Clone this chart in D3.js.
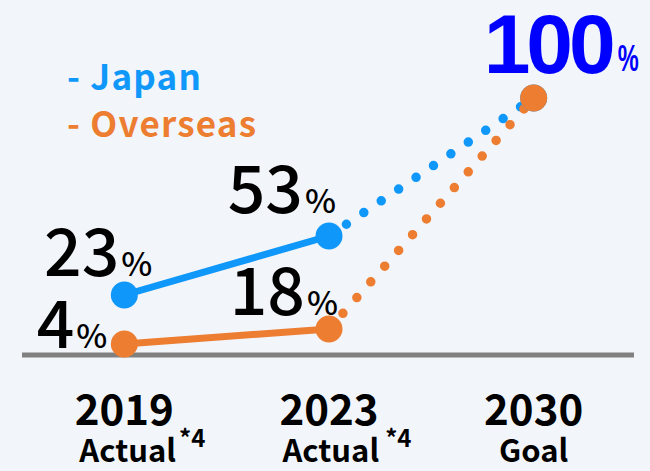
<!DOCTYPE html>
<html><head><meta charset="utf-8">
<script src="https://cdn.jsdelivr.net/npm/d3@7"></script>
<style>
html,body{margin:0;padding:0;background:#f2f6fb;}
svg{display:block;}
</style></head>
<body>
<svg id="chart" width="650" height="471"></svg>
<script>
// ---- data ----
const years = ["2019", "2023", "2030"];
const yearSubLabels = ["Actual", "Actual", "Goal"];
const yearNotes = ["*4", "*4", ""];
const japanValues = [23, 53, 100];
const overseasValues = [4, 18, 100];
const seriesNames = ["Japan", "Overseas"];
// illustrative (non-linear) value axis breakpoints used by the original graphic
const axisBreaks = [0, 4, 18, 23, 53, 100];

// ---- layout ----
const W = 650, H = 471;
const svg = d3.select("#chart");
const blue = "#0f97fa", orange = "#ed7d31";
const numFont = "'Noto Sans CJK JP','Noto Sans',sans-serif";

const x = d3.scalePoint().domain(years).range([22, 636]).padding(0.5);
const y = d3.scaleLinear().domain(axisBreaks).range([355, 344, 329, 295, 236, 98]);

svg.append("rect").attr("width", W).attr("height", H).attr("fill", "#f2f6fb");

// baseline axis
svg.append("line")
  .attr("x1", 22).attr("x2", 634)
  .attr("y1", y(0)).attr("y2", y(0))
  .attr("stroke", "#808080").attr("stroke-width", 5);

const series = [
  {name: seriesNames[0], values: japanValues, color: blue},
  {name: seriesNames[1], values: overseasValues, color: orange}
];

const line = d3.line().x(d => x(d.year)).y(d => y(d.v));

// dotted projections
series.forEach(s => {
  const pts = years.map((yr, i) => ({year: yr, v: s.values[i]}));
  svg.append("path")
    .attr("d", line(pts.slice(1, 3)))
    .attr("fill", "none").attr("stroke", s.color)
    .attr("stroke-width", 9.5).attr("stroke-linecap", "round")
    .attr("stroke-dasharray", "0 21");
});
// solid actuals
series.forEach(s => {
  const pts = years.map((yr, i) => ({year: yr, v: s.values[i]}));
  svg.append("path")
    .attr("d", line(pts.slice(0, 2)))
    .attr("fill", "none").attr("stroke", s.color)
    .attr("stroke-width", 7);
});
// markers
series.forEach(s => {
  const pts = years.map((yr, i) => ({year: yr, v: s.values[i]}));
  svg.selectAll(null).data(pts).enter().append("circle")
    .attr("cx", d => x(d.year)).attr("cy", d => y(d.v))
    .attr("r", 13.5).attr("fill", s.color);
});

// value labels
const labelCfg = [
  {s: 0, i: 0, dx: 28, dy: -19},
  {s: 0, i: 1, dx: 7, dy: -23},
  {s: 1, i: 0, dx: -17, dy: 4},
  {s: 1, i: 1, dx: 9, dy: -14}
];
labelCfg.forEach(c => {
  const s = series[c.s];
  const t = svg.append("text")
    .attr("x", x(years[c.i]) + c.dx).attr("y", y(s.values[c.i]) + c.dy)
    .attr("text-anchor", "end")
    .attr("font-family", numFont).attr("font-weight", 500)
    .attr("fill", "#000");
  t.append("tspan").attr("font-size", 66).text(s.values[c.i]);
  t.append("tspan").attr("font-size", 33).attr("dx", 2).text("%");
});
// goal label
svg.append("text")
  .attr("x", x(years[2]) - 50).attr("y", y(100) - 25)
  .attr("font-family", "'Liberation Sans',Arial,sans-serif").attr("font-weight", 700)
  .attr("font-size", 84).attr("letter-spacing", -4)
  .attr("fill", "#0000ff")
  .text(japanValues[2]);
svg.append("text")
  .attr("x", x(years[2]) + 84).attr("y", y(100) - 27)
  .attr("font-family", "'Liberation Sans',Arial,sans-serif").attr("font-weight", 700)
  .attr("font-size", 36).attr("textLength", 21).attr("lengthAdjust", "spacingAndGlyphs")
  .attr("fill", "#0000ff")
  .text("%");

// legend
series.forEach((s, i) => {
  svg.append("text")
    .attr("x", 67).attr("y", 90 + i * 47)
    .attr("font-family", numFont).attr("font-weight", 700)
    .attr("font-size", 35).attr("letter-spacing", 1.2).attr("fill", s.color)
    .text("- " + s.name);
});

// x labels
years.forEach((yr, i) => {
  svg.append("text")
    .attr("x", x(yr)).attr("y", 425)
    .attr("text-anchor", "middle")
    .attr("font-family", numFont).attr("font-weight", 700)
    .attr("font-size", 42).attr("fill", "#000")
    .text(yr);
  const t = svg.append("text")
    .attr("x", x(yr) + (yearNotes[i] ? 18 : 0)).attr("y", 462)
    .attr("text-anchor", "middle")
    .attr("font-family", numFont).attr("font-weight", 700)
    .attr("font-size", 31).attr("fill", "#000");
  t.append("tspan").text(yearSubLabels[i]);
  if (yearNotes[i]) {
    t.append("tspan").attr("font-size", 24).attr("dx", i === 1 ? 6 : 3).attr("dy", -15).text(yearNotes[i]);
  }
});
</script>
</body></html>
